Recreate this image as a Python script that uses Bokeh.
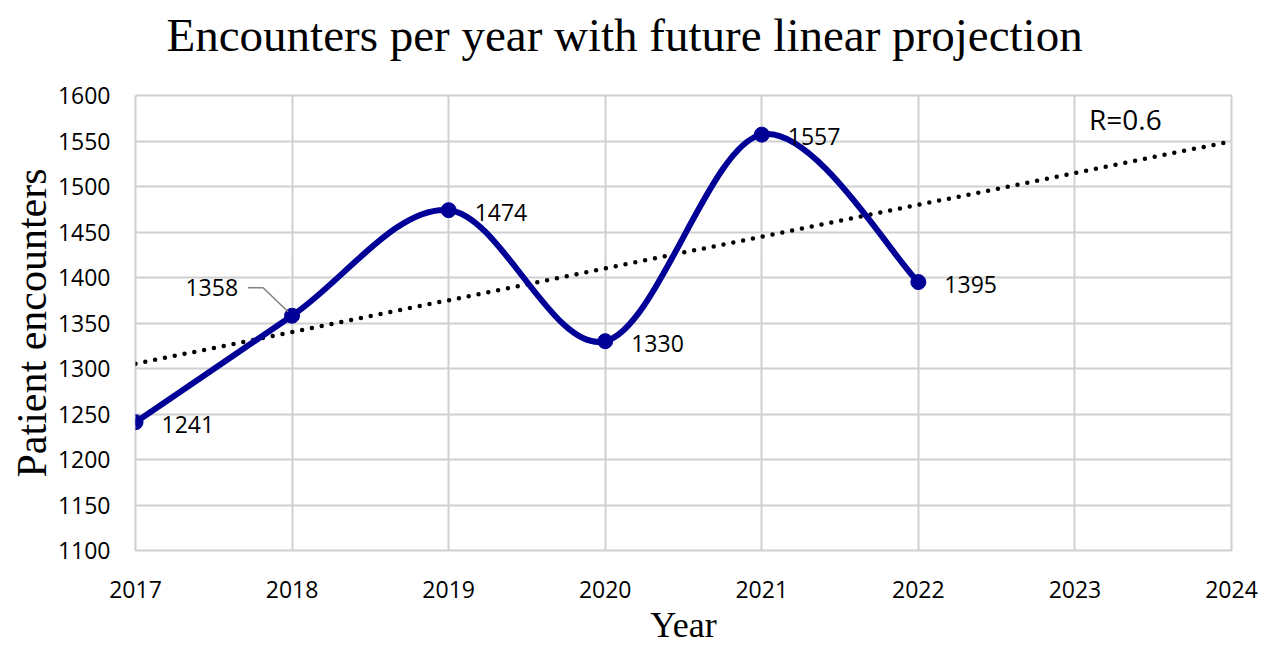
import numpy as np
from bokeh.plotting import figure
from bokeh.models import FixedTicker, Label, ColumnDataSource, Title, LinearAxis
from bokeh.core.properties import value
from bokeh.embed import file_html
from bokeh.resources import INLINE

# Annual patient encounters
years = [2017, 2018, 2019, 2020, 2021, 2022]
encounters = [1241, 1358, 1474, 1330, 1557, 1395]

x_ticks = [2017, 2018, 2019, 2020, 2021, 2022, 2023, 2024]
y_ticks = [1100, 1150, 1200, 1250, 1300, 1350, 1400, 1450, 1500, 1550, 1600]

LINE_BLUE = "#000096"
GRID = "#d0d0d0"
SERIF = "Liberation Serif"
SANS = "Open Sans"

p = figure(
    width=1269, height=646,
    x_range=(2017, 2024), y_range=(1100, 1600),
    output_backend="svg", toolbar_location=None,
    min_border_left=135, min_border_right=38,
    min_border_top=95, min_border_bottom=95,
    background_fill_color="white", border_fill_color="white",
)
xax = p.below[0]
yax = p.left[0]

# Blank top axis (one white tick, no label): keeps a gap under the title
gap = LinearAxis(ticker=FixedTicker(ticks=[x_ticks[0]]), axis_line_color=None,
                 major_tick_line_color="white", minor_tick_line_color=None,
                 major_tick_in=0, major_tick_out=35, minor_tick_out=0,
                 major_label_standoff=0, major_label_text_alpha=0,
                 major_label_overrides={x_ticks[0]: ""})
p.add_layout(gap, "above")

# Chart title
p.title.text = "Encounters per year with future linear projection"
p.title.text_font = SERIF
p.title.text_font_size = "47px"
p.title.text_font_style = "normal"
p.title.text_color = "black"
p.title.align = "left"
p.title.offset = 31
p.title.standoff = 0

# Axes
for ax in (xax, yax):
    ax.axis_line_color = None
    ax.major_tick_line_color = None
    ax.minor_tick_line_color = None
    ax.major_label_text_font = SANS
    ax.major_label_text_font_size = "23px"
    ax.major_label_text_color = "black"
    ax.axis_label_text_font = SERIF
    ax.axis_label_text_font_style = "normal"
    ax.axis_label_text_color = "black"

xax.ticker = FixedTicker(ticks=x_ticks)
yax.ticker = FixedTicker(ticks=y_ticks)
xax.major_label_standoff = 24
yax.major_label_standoff = 19
yax.axis_label = "Patient encounters"
yax.axis_label_text_font_size = "42px"
yax.axis_label_standoff = 0

# x-axis title as a panel below the tick labels
p.add_layout(Title(text="Year", align="center", text_font=SERIF,
                   text_font_size="36px", text_font_style="normal",
                   text_color="black", standoff=4), "below")

p.xgrid.ticker = FixedTicker(ticks=x_ticks)
p.ygrid.ticker = FixedTicker(ticks=y_ticks)
p.grid.grid_line_color = GRID
p.grid.grid_line_width = 2
p.outline_line_color = GRID
p.outline_line_width = 2

# Linear trend fitted to the data, extended to the last tick year
xs = np.array(years, dtype=float)
ys = np.array(encounters, dtype=float)
slope, intercept = np.polyfit(xs, ys, 1)
trend_x = [x_ticks[0], x_ticks[-1]]
trend_y = [slope * x + intercept for x in trend_x]
p.line(trend_x, trend_y, line_color="black", line_width=4.5,
       line_dash="0 10", line_cap="round")

# Smoothed series: cubic Bezier segments with Catmull-Rom tangents
pts = np.column_stack([xs, ys])
ext = np.vstack([pts[0], pts, pts[-1]])
seg = dict(x0=[], y0=[], x1=[], y1=[], cx0=[], cy0=[], cx1=[], cy1=[])
for i in range(len(pts) - 1):
    p0, p1, p2, p3 = ext[i], ext[i + 1], ext[i + 2], ext[i + 3]
    c0 = p1 + (p2 - p0) / 6.0
    c1 = p2 - (p3 - p1) / 6.0
    seg["x0"].append(p1[0]); seg["y0"].append(p1[1])
    seg["x1"].append(p2[0]); seg["y1"].append(p2[1])
    seg["cx0"].append(c0[0]); seg["cy0"].append(c0[1])
    seg["cx1"].append(c1[0]); seg["cy1"].append(c1[1])
p.bezier(x0="x0", y0="y0", x1="x1", y1="y1", cx0="cx0", cy0="cy0",
         cx1="cx1", cy1="cy1", source=ColumnDataSource(seg),
         line_color=LINE_BLUE, line_width=6, line_cap="round")

p.scatter(years, encounters, size=15, marker="circle",
          fill_color=LINE_BLUE, line_color=LINE_BLUE)

# Value labels (the 2018 label sits up-left with a leader line)
px_per_year = 1096 / 7.0
px_per_unit = 456 / 500.0
lbl = dict(x=[], y=[], t=[], dx=[], dy=[], align=[])
for yr, v in zip(years, encounters):
    lbl["x"].append(yr); lbl["y"].append(v); lbl["t"].append(str(v))
    if yr == 2018:
        lbl["dx"].append(-54); lbl["dy"].append(-28); lbl["align"].append("right")
    else:
        lbl["dx"].append(26); lbl["dy"].append(2); lbl["align"].append("left")
p.text(x="x", y="y", text="t", x_offset="dx", y_offset="dy",
       text_align="align", text_baseline="middle",
       text_font=value(SANS), text_font_size="23px", text_color="black",
       source=ColumnDataSource(lbl))

i18 = years.index(2018)
lead_px = [(-44, -28), (-29, -28), (-4, -4)]
lead_x = [years[i18] + dx / px_per_year for dx, dy in lead_px]
lead_y = [encounters[i18] - dy / px_per_unit for dx, dy in lead_px]
p.line(lead_x, lead_y, line_color="#808080", line_width=1.5)

p.add_layout(Label(x=2023.09, y=1574, text="R=0.6", text_font=SANS,
                   text_font_size="28px", text_color="black",
                   text_baseline="middle", text_align="left"))

open("out.html", "w").write(file_html(p, INLINE))
